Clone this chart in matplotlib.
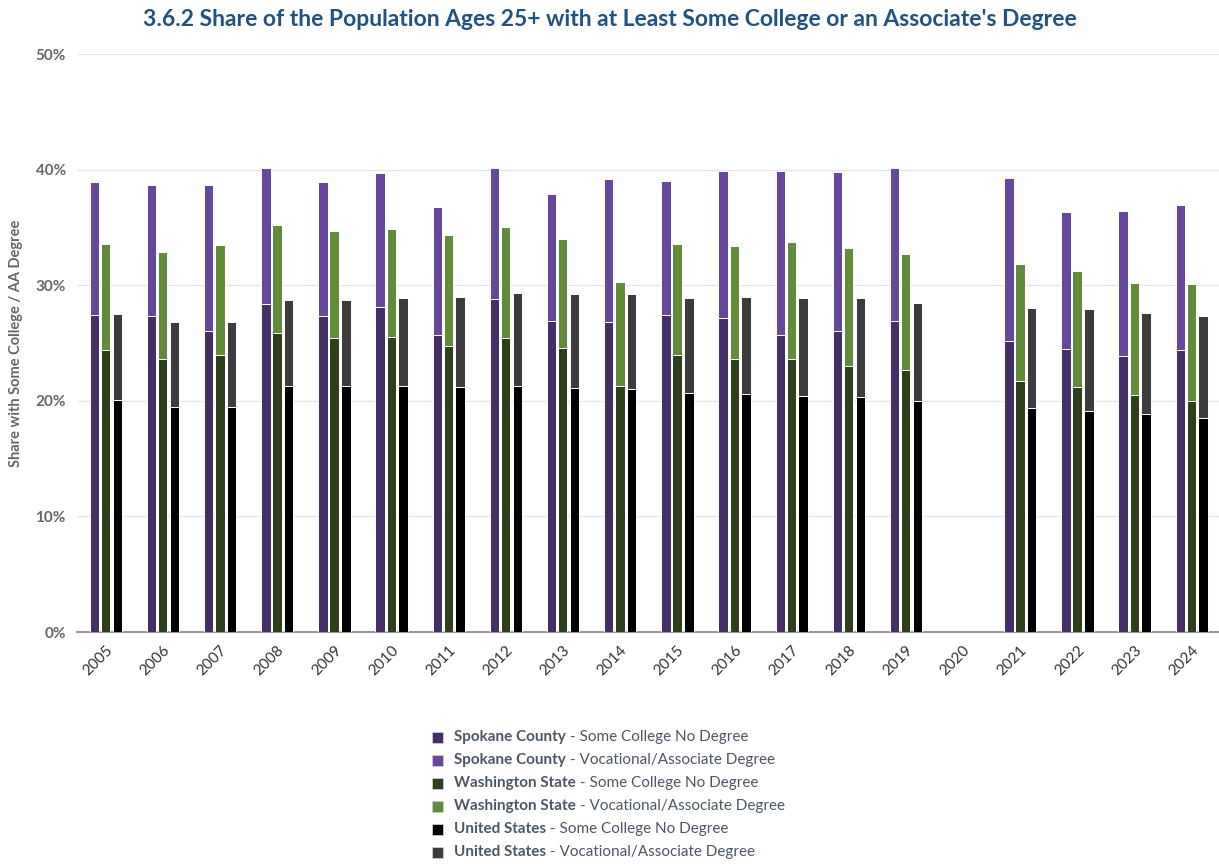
import numpy as np
import matplotlib
matplotlib.use("Agg")
import matplotlib.pyplot as plt
from matplotlib.patches import Rectangle

plt.rcParams["font.family"] = ["Lato", "DejaVu Sans"]

years = [str(y) for y in range(2005, 2025)]
nan = np.nan
# bottom segment: Some College No Degree (%), top of stack: total incl. Vocational/Associate Degree (%)
spokane_some = [27.4, 27.3, 26.0, 28.4, 27.3, 28.1, 25.7, 28.8, 26.9, 26.8,
                27.4, 27.2, 25.7, 26.0, 26.9, nan, 25.2, 24.5, 23.9, 24.4]
spokane_total = [38.9, 38.7, 38.7, 40.1, 38.9, 39.7, 36.8, 40.1, 37.9, 39.2,
                 39.0, 39.9, 39.9, 39.8, 40.1, nan, 39.3, 36.3, 36.4, 36.9]
wa_some = [24.4, 23.6, 24.0, 25.9, 25.4, 25.5, 24.7, 25.4, 24.6, 21.3,
           24.0, 23.6, 23.6, 23.0, 22.7, nan, 21.7, 21.2, 20.5, 20.0]
wa_total = [33.6, 32.9, 33.5, 35.2, 34.7, 34.9, 34.3, 35.0, 34.0, 30.3,
            33.6, 33.4, 33.7, 33.2, 32.7, nan, 31.8, 31.2, 30.2, 30.1]
us_some = [20.1, 19.5, 19.5, 21.3, 21.3, 21.3, 21.2, 21.3, 21.1, 21.0,
           20.7, 20.6, 20.4, 20.3, 20.0, nan, 19.4, 19.1, 18.9, 18.5]
us_total = [27.5, 26.8, 26.8, 28.7, 28.7, 28.9, 29.0, 29.3, 29.2, 29.2,
            28.9, 29.0, 28.9, 28.9, 28.5, nan, 28.0, 27.9, 27.6, 27.3]

spokane_assoc = np.array(spokane_total) - np.array(spokane_some)
wa_assoc = np.array(wa_total) - np.array(wa_some)
us_assoc = np.array(us_total) - np.array(us_some)

groups = [
    ("Spokane County", spokane_some, spokane_assoc, "#432f66", "#65479c"),
    ("Washington State", wa_some, wa_assoc, "#2e3f1c", "#638b3c"),
    ("United States", us_some, us_assoc, "#000000", "#3c3c3c"),
]

W, H = 1219, 864
fig = plt.figure(figsize=(W / 100, H / 100), dpi=100)
ax = fig.add_axes([77 / W, 1 - 632 / H, (1220 - 77) / W, (632 - 54) / H])

x = np.arange(len(years))
offsets = [-0.195, 0.0, 0.205]
bw = 0.165
for (name, some, assoc, c1, c2), off in zip(groups, offsets):
    some = np.array(some)
    ax.bar(x + off, some, bw, color=c1, edgecolor="white", linewidth=0.7, zorder=3)
    ax.bar(x + off, assoc, bw, bottom=some, color=c2, edgecolor="white", linewidth=0.7, zorder=3)

ax.set_xlim(-0.5, len(years) - 0.5)
ax.set_ylim(0, 50)
ax.set_yticks(range(0, 51, 10))
ax.set_yticklabels([f"{v}%" for v in range(0, 51, 10)])
ax.grid(axis="y", color="#e6e6e6", linewidth=1, zorder=0)
for s in ["top", "right", "left"]:
    ax.spines[s].set_visible(False)
ax.spines["bottom"].set_color("#999999")
ax.spines["bottom"].set_linewidth(1.5)
ax.tick_params(axis="y", length=0, pad=8, labelsize=11, labelcolor="#666666")
for t in ax.get_yticklabels():
    t.set_fontweight("bold")
ax.set_xticks(x)
ax.set_xticklabels(years, rotation=45, ha="right", rotation_mode="anchor")
ax.tick_params(axis="x", length=0, pad=8, labelsize=11, labelcolor="#333333")
ax.set_ylabel("Share with Some College / AA Degree", fontsize=10.5, color="#666666",
              fontweight="bold", labelpad=9)

fig.text(0.5, 1 - 20 / H, "3.6.2 Share of the Population Ages 25+ with at Least Some College or an Associate's Degree",
         ha="center", va="center", fontsize=16.5, fontweight="bold", color="#22527f")

# manual legend with bold region name and regular category text
entries = []
for name, some, assoc, c1, c2 in groups:
    entries.append((name, "Some College No Degree", c1))
    entries.append((name, "Vocational/Associate Degree", c2))

renderer = fig.canvas.get_renderer()
y0 = 737
for i, (name, cat, col) in enumerate(entries):
    yp = y0 + 23 * i
    fig.patches.append(Rectangle((432 / W, 1 - (yp + 5.5) / H), 11 / W, 11 / H,
                                 transform=fig.transFigure, facecolor=col,
                                 edgecolor="#cccccc", linewidth=0.6))
    t = fig.text(454 / W, 1 - yp / H, name, ha="left", va="center", fontsize=11,
                 fontweight="bold", color="#4d5766")
    bb = t.get_window_extent(renderer)
    fig.text(bb.x1 / W, 1 - yp / H, " - " + cat, ha="left", va="center", fontsize=11,
             color="#4d5766")

fig.savefig("out.png", dpi=100)
